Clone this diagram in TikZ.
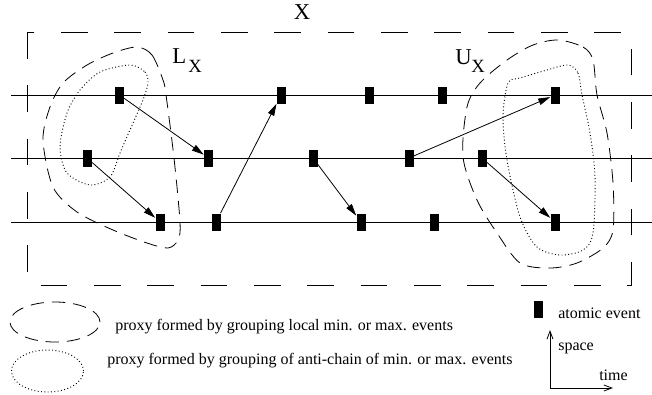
\documentclass[tikz,border=0pt]{standalone}
\usepackage{fontspec}
\setmainfont{Liberation Serif}
\usetikzlibrary{arrows.meta,shapes.geometric}
\tikzset{
  ev/.style={rectangle, fill=black, draw=none, minimum width=6.75pt, minimum height=12.75pt, inner sep=0pt},
  tl/.style={line width=0.75pt},
  msg/.style={line width=0.6pt, -{Triangle[length=9pt,width=5pt]}},
  frame/.style={line width=0.75pt, dash pattern=on 20pt off 20pt},
  blobd/.style={line width=0.6pt, dash pattern=on 10pt off 6pt},
  blobp/.style={line width=0.7pt, dash pattern=on 0.7pt off 1.8pt},
  lbl/.style={inner sep=0pt, anchor=base west, font=\fontsize{12}{14}\selectfont},
  axis/.style={line width=0.6pt, -{Straight Barb[length=6pt,width=4.5pt]}}
}
\begin{document}
\begin{tikzpicture}[x=0.75pt,y=-0.75pt]
\useasboundingbox (0,0) rectangle (652,394);
% frame X
\draw[frame] (27,32) rectangle (631,285);
\node[inner sep=0pt, anchor=base, font=\fontsize{17}{20}\selectfont] (Xl) at (302,19) {X};
% time lines
\foreach \i/\y in {1/95,2/158,3/222}{
  \coordinate (s\i) at (11,\y);
  \coordinate (t\i) at (652,\y);
  \draw[tl] (s\i) -- (t\i);
}
% blobs
\draw[blobd] plot[smooth cycle] coordinates {(137,47) (152,55) (163,80) (166,95) (174,158) (180,222) (178,240) (168,248) (147,243) (113,230) (77,212) (53,187) (43,140) (50,107) (63,83) (87,65) (113,53)};
\draw[blobp] plot[smooth cycle] coordinates {(130,65) (145,72) (148,83) (143,100) (133,123) (120,153) (110,177) (90,185) (67,173) (60,147) (67,113) (80,90) (100,72)};
\draw[blobd] plot[smooth cycle] coordinates {(558,40) (583,47) (593,60) (597,95) (607,133) (613,183) (613,230) (603,248) (577,263) (550,268) (520,263) (497,233) (477,200) (463,157) (467,107) (480,83) (507,60) (533,45)};
\draw[blobp] plot[smooth cycle] coordinates {(568,65) (578,73) (582,95) (590,133) (595,177) (593,233) (583,250) (560,255) (537,247) (520,217) (507,160) (503,117) (508,83) (520,78) (547,70)};
% labels L_X, U_X
\node[inner sep=0pt, anchor=base west, font=\fontsize{17}{20}\selectfont] (L) at (172,63) {L};
\node[inner sep=0pt, anchor=base west, font=\fontsize{14}{16}\selectfont] (Lx) at (188,72) {X};
\node[inner sep=0pt, anchor=base west, font=\fontsize{17}{20}\selectfont] (U) at (455,64) {U};
\node[inner sep=0pt, anchor=base west, font=\fontsize{14}{16}\selectfont] (Ux) at (471,72) {X};
% events
\node[ev] (e11) at (119.5,95) {};
\node[ev] (e12) at (281,95) {};
\node[ev] (e13) at (369,95) {};
\node[ev] (e14) at (442,95) {};
\node[ev] (e15) at (555,95) {};
\node[ev] (e21) at (87,158) {};
\node[ev] (e22) at (208.5,158) {};
\node[ev] (e23) at (313,158) {};
\node[ev] (e24) at (409,158) {};
\node[ev] (e25) at (482,158) {};
\node[ev] (e31) at (160,222) {};
\node[ev] (e32) at (216,222) {};
\node[ev] (e33) at (361,222) {};
\node[ev] (e34) at (434,222) {};
\node[ev] (e35) at (555,222) {};
% messages
\draw[msg] (e11) -- (e22);
\draw[msg] (e21) -- (e31);
\draw[msg] (e32) -- (e12);
\draw[msg] (e23) -- (e33);
\draw[msg] (e24) -- (e15);
\draw[msg] (e25) -- (e35);
% legend
\node[ellipse, draw, blobd, minimum width=67.5pt, minimum height=30pt, inner sep=0pt] (le1) at (55,322) {};
\node[lbl] (lt1) at (115,330) {proxy formed by grouping local min. or max. events};
\node[ellipse, draw, blobp, minimum width=54pt, minimum height=31.5pt, inner sep=0pt] (le2) at (47.5,371) {};
\node[lbl] (lt2) at (107,364) {proxy formed by grouping of anti-chain of min. or max. events};
\node[ev] (lev) at (538.5,309.5) {};
\node[lbl] (lt3) at (558,318) {atomic event};
\coordinate (o) at (550,388);
\coordinate (up) at (550,330);
\coordinate (rt) at (613,388);
\draw[axis] (o) -- (up);
\draw[axis] (o) -- (rt);
\node[lbl] (sp) at (558,350) {space};
\node[lbl] (tm) at (599,380) {time};
\end{tikzpicture}
\end{document}
